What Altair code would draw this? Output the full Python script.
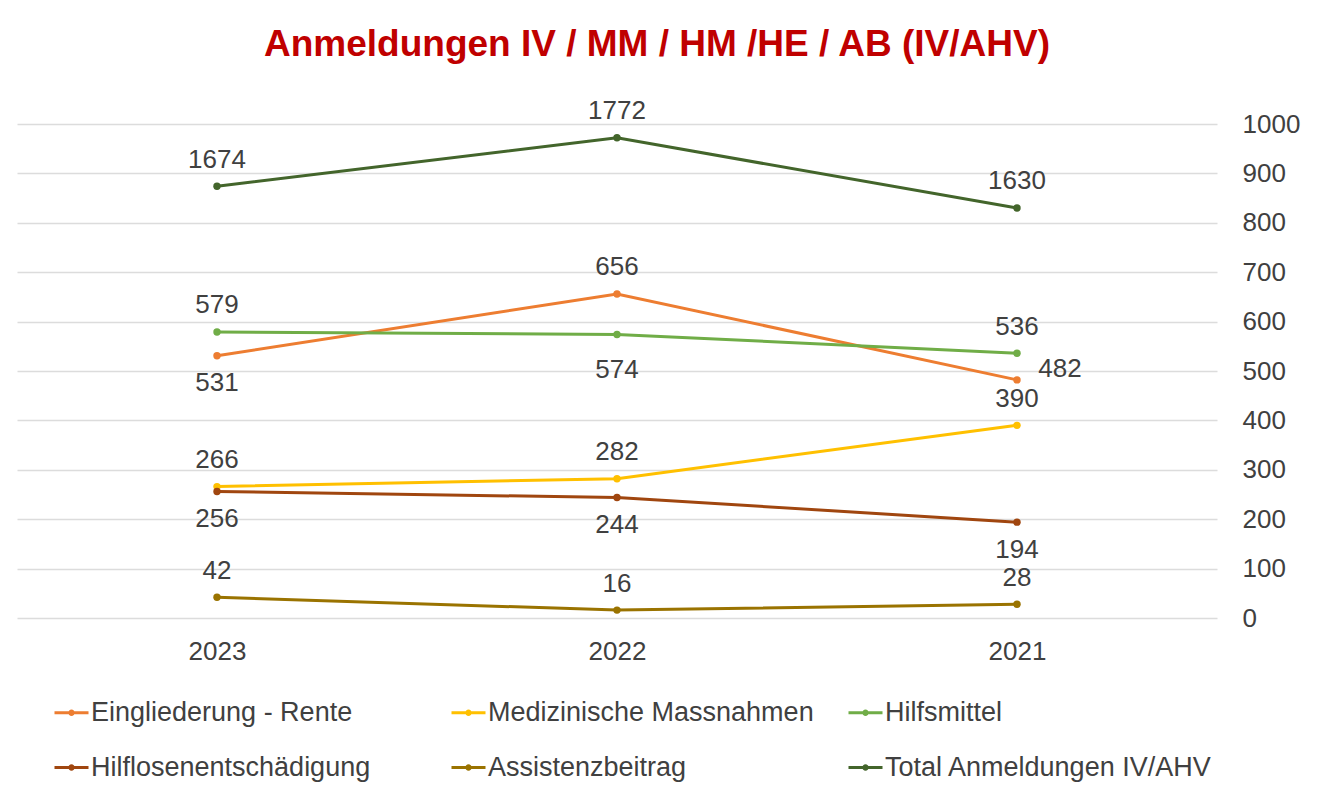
import altair as alt
import pandas as pd

# ---------------- data ----------------
years = ["2023", "2022", "2021"]
series = [
    "Eingliederung - Rente",
    "Medizinische Massnahmen",
    "Hilfsmittel",
    "Hilflosenentschädigung",
    "Assistenzbeitrag",
    "Total Anmeldungen IV/AHV",
]
eingliederung = [531, 656, 482]
medizinische = [266, 282, 390]
hilfsmittel = [579, 574, 536]
hilflosen = [256, 244, 194]
assistenz = [42, 16, 28]
total = [1674, 1772, 1630]

colors = ["#ED7D31", "#FFC000", "#70AD47", "#A0460F", "#9A7300", "#43652B"]

# where each data label sits relative to its point (chart styling, not data)
placement = {
    "Eingliederung - Rente": ["below", "above", "right"],
    "Medizinische Massnahmen": ["above", "above", "above"],
    "Hilfsmittel": ["above", "below2", "above"],
    "Hilflosenentschädigung": ["below", "below", "below"],
    "Assistenzbeitrag": ["above", "above", "above"],
    "Total Anmeldungen IV/AHV": ["above", "above", "above"],
}

values = [eingliederung, medizinische, hilfsmittel, hilflosen, assistenz, total]
rows = []
for s, vals in zip(series, values):
    for y, v, p in zip(years, vals, placement[s]):
        rows.append({"series": s, "year": y, "value": v, "pos": p})
df = pd.DataFrame(rows)

TEXT = "#404040"
FONT = "Liberation Sans"

color_scale = alt.Scale(domain=series, range=colors)

x_enc = alt.X(
    "year:N",
    sort=years,
    scale=alt.Scale(type="point", padding=0.5),
    axis=alt.Axis(
        title=None, labelAngle=0, domain=False, ticks=False, tickSize=0,
        grid=False, labelPadding=20, labelFontSize=26, labelColor=TEXT,
        labelFont=FONT,
    ),
)

legend = alt.Legend(
    title=None,
    orient="none",
    direction="horizontal",
    legendX=36,
    legendY=570,
    columns=3,
    gridAlign="all",
    columnPadding=26,
    rowPadding=23,
    labelFontSize=27,
    labelColor=TEXT,
    labelFont=FONT,
    labelOffset=1,
    labelLimit=600,
    symbolType="M-1,0L1,0M-0.1,0A0.1,0.1,0,1,1,0.1,0A0.1,0.1,0,1,1,-0.1,0Z",
    symbolSize=1156,
    symbolStrokeWidth=3,
    symbolOpacity=1,
    padding=0,
)


def build(data, y_scale, y_axis, with_legend):
    y_enc = alt.Y("value:Q", scale=y_scale, axis=y_axis)
    col = alt.Color("series:N", scale=color_scale,
                    legend=legend if with_legend else None)
    base = alt.Chart(data)
    line = base.mark_line(strokeWidth=3).encode(x=x_enc, y=y_enc, color=col)
    pts = base.mark_circle(size=55, opacity=1).encode(
        x=x_enc, y=y_enc,
        color=alt.Color("series:N", scale=color_scale, legend=None),
    )
    layers = [line, pts]
    offs = {"above": (0, -26.5), "below": (0, 27.5), "below2": (0, 36), "right": (43, -11)}
    for p, (dx, dy) in offs.items():
        t = base.transform_filter(alt.datum.pos == p).mark_text(
            fontSize=26, font=FONT, color=TEXT, dx=dx, dy=dy,
            align="center", baseline="middle",
        ).encode(x=x_enc, y=y_enc, text="value:Q")
        layers.append(t)
    return alt.layer(*layers)


main = build(
    df[df.series != series[-1]],
    alt.Scale(domain=[0, 1000], nice=False, zero=True),
    alt.Axis(
        title=None, orient="right", values=list(range(0, 1001, 100)),
        format="d",
        grid=True, gridColor="#dcdcdc", gridWidth=1.5, domain=False,
        ticks=False, tickSize=0, labelPadding=25, labelAlign="left",
        labelFontSize=26, labelColor=TEXT, labelFont=FONT,
    ),
    True,
)
tot = build(
    df[df.series == series[-1]],
    alt.Scale(domain=[800, 1800], nice=False, zero=False),
    None,
    False,
)

chart = (
    alt.layer(main, tot)
    .resolve_scale(y="independent")
    .properties(
        width=1200,
        height=494,
        autosize=alt.AutoSizeParams(type="none"),
        padding={"left": 9, "top": 116, "right": 100, "bottom": 180},
        title=alt.TitleParams(
            text="Anmeldungen IV / MM / HM /HE / AB (IV/AHV)",
            fontSize=37, fontWeight="bold", color="#C00000", font=FONT,
            anchor="middle", dx=40, offset=34,
        ),
        background="white",
    )
    .configure_view(stroke=None)
)

chart.save("out.html", embed_options={"renderer": "svg", "actions": False})
